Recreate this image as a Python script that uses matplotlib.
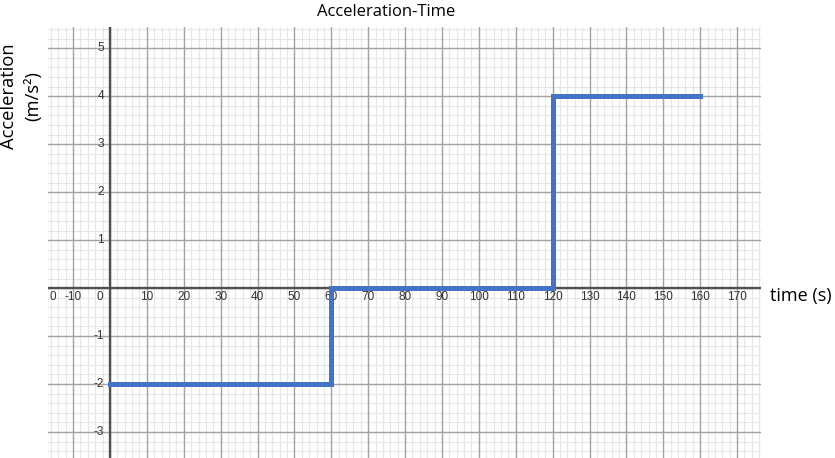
import matplotlib
matplotlib.use("Agg")
import matplotlib.pyplot as plt
import numpy as np

# data
times = [0, 60, 120, 160]
accel = [-2, 0, 4, 4]
x_ticks = [-10, 0, 10, 20, 30, 40, 50, 60, 70, 80, 90, 100, 110, 120, 130, 140, 150, 160, 170]
x_tick_labels = ["-10", "0", "10", "20", "30", "40", "50", "60", "70", "80", "90", "100", "110", "120", "130", "140", "150", "160", "170"]
y_ticks = [-3, -2, -1, 1, 2, 3, 4, 5]
y_tick_labels = ["-3", "-2", "-1", "1", "2", "3", "4", "5"]
title = "Acceleration-Time"
ylabel_lines = ["Acceleration", "(m/s²)"]
xlabel = "time (s)"

fig = plt.figure(figsize=(8.35, 4.58), dpi=100)
ax = fig.add_axes([0.0575, 0.0, 0.8535, 0.941])
ax.set_xlim(-16.8, 176.4)
ax.set_ylim(-3.54, 5.44)

# grid
for v in np.arange(-16, 177, 2):
    ax.axvline(v, color="#e6e6e6", lw=0.8, zorder=0)
for v in np.arange(-3.4, 5.44, 0.2):
    ax.axhline(v, color="#e6e6e6", lw=0.8, zorder=0)
for v in range(-10, 171, 10):
    ax.axvline(v, color="#a3a3a3", lw=1.0, zorder=1)
for v in range(-3, 6):
    ax.axhline(v, color="#a3a3a3", lw=1.0, zorder=1)
ax.axhline(0, color="#505050", lw=1.7, zorder=2)
ax.axvline(0, color="#505050", lw=1.7, zorder=2)

for s in ax.spines.values():
    s.set_visible(False)
ax.set_xticks([])
ax.set_yticks([])

# series
ax.step(times, accel, where="post", color="#4472C4", lw=3.6, zorder=5,
        solid_joinstyle="miter")

# tick labels
lf = dict(family="Liberation Sans", fontsize=8.5, color="#333333")
for t, lab in zip(x_ticks, x_tick_labels):
    if t == 0:
        ax.text(-1.8, -0.19, lab, ha="right", va="center", **lf)
    else:
        ax.text(t, -0.19, lab, ha="center", va="center", **lf)
ax.text(-15.4, -0.19, "0", ha="center", va="center", **lf)
for t, lab in zip(y_ticks, y_tick_labels):
    ax.text(-1.6, t, lab, ha="right", va="center", **lf)

tf = dict(family="Open Sans", color="black")
fig.text(0.463, 0.974, title, ha="center", va="center", fontsize=12, **tf)
fig.text(0.011, 0.79, ylabel_lines[0], rotation=90, ha="center", va="center", fontsize=13.2, **tf)
fig.text(0.04, 0.79, ylabel_lines[1], rotation=90, ha="center", va="center", fontsize=13.2, **tf)
fig.text(0.922, 0.353, xlabel, ha="left", va="center", fontsize=13, **tf)

fig.savefig("out.png", dpi=100)
